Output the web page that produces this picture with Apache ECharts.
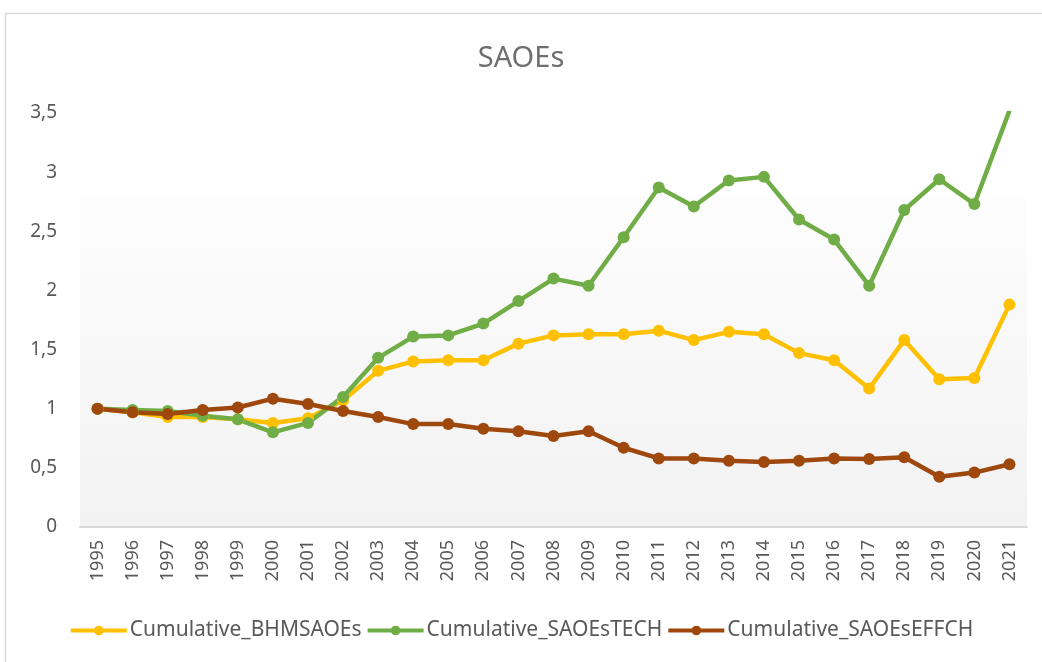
<!DOCTYPE html>
<html>
<head>
    <meta charset="UTF-8">
    <title>SAOEs</title>
    <script src="https://cdn.jsdelivr.net/npm/echarts@6/dist/echarts.min.js"></script>
    <style>
        html, body { margin: 0; padding: 0; background: #fff; }
        #main { width: 1042px; height: 662px; }
    </style>
</head>
<body>
<div id="main"></div>
<script type="text/javascript">
    // years on the x axis
    var years = ['1995', '1996', '1997', '1998', '1999', '2000', '2001', '2002', '2003', '2004',
        '2005', '2006', '2007', '2008', '2009', '2010', '2011', '2012', '2013', '2014',
        '2015', '2016', '2017', '2018', '2019', '2020', '2021'];

    // values
    var bhmSaoes = [1.00, 0.97, 0.93, 0.93, 0.91, 0.88, 0.92, 1.07, 1.32, 1.40,
        1.41, 1.41, 1.55, 1.62, 1.63, 1.63, 1.66, 1.58, 1.65, 1.63,
        1.47, 1.41, 1.17, 1.58, 1.25, 1.26, 1.88];
    var saoesTech = [1.00, 0.99, 0.98, 0.94, 0.91, 0.80, 0.88, 1.10, 1.43, 1.61,
        1.62, 1.72, 1.91, 2.10, 2.04, 2.45, 2.87, 2.71, 2.93, 2.96,
        2.60, 2.43, 2.04, 2.68, 2.94, 2.73, 3.52];
    var saoesEffch = [1.00, 0.97, 0.955, 0.99, 1.01, 1.085, 1.04, 0.98, 0.93, 0.87,
        0.87, 0.83, 0.81, 0.77, 0.81, 0.67, 0.58, 0.58, 0.56, 0.55,
        0.56, 0.58, 0.575, 0.59, 0.425, 0.46, 0.53];

    var yTicks = [0, 0.5, 1, 1.5, 2, 2.5, 3, 3.5];

    var seriesNames = ['Cumulative_BHMSAOEs', 'Cumulative_SAOEsTECH', 'Cumulative_SAOEsEFFCH'];
    var seriesColors = ['#FFC000', '#70AD47', '#9E480E'];

    var echart = echarts.init(document.getElementById('main'));

    function makeLine(name, data, color) {
        return {
            name: name,
            type: 'line',
            data: data,
            symbol: 'circle',
            symbolSize: 12,
            clip: true,
            itemStyle: {color: color},
            lineStyle: {color: color, width: 4.5}
        };
    }

    var option = {
        backgroundColor: '#ffffff',
        animation: false,
        textStyle: {fontFamily: 'Noto Sans'},
        title: {
            text: 'SAOEs',
            left: 'center',
            top: 39,
            textStyle: {
                fontSize: 29,
                fontWeight: 'normal',
                color: '#6e6e6e',
                fontFamily: 'Noto Sans'
            }
        },
        graphic: [{
            type: 'rect',
            shape: {x: 5.5, y: 13.5, width: 1040, height: 660},
            style: {fill: 'none', stroke: '#d9d9d9', lineWidth: 1.5},
            silent: true
        }],
        legend: {
            bottom: 16,
            left: 'center',
            itemWidth: 56,
            itemHeight: 12,
            itemGap: 4,
            lineStyle: {width: 4},
            textStyle: {fontSize: 21, color: '#595959', padding: [0, 0, 0, -2]},
            data: seriesNames
        },
        grid: {
            left: 80,
            right: 15,
            top: 113,
            bottom: 135,
            show: true,
            borderWidth: 0,
            backgroundColor: {
                type: 'linear', x: 0, y: 0, x2: 0, y2: 1,
                colorStops: [
                    {offset: 0, color: '#ffffff'},
                    {offset: 0.2, color: '#ffffff'},
                    {offset: 0.21, color: '#fdfdfd'},
                    {offset: 1, color: '#f2f2f2'}
                ]
            }
        },
        xAxis: {
            type: 'category',
            boundaryGap: true,
            data: years,
            axisLine: {lineStyle: {color: '#d9d9d9', width: 2}},
            axisTick: {show: false},
            axisLabel: {
                rotate: 90,
                interval: 0,
                margin: 13,
                fontSize: 18,
                color: '#595959'
            }
        },
        yAxis: {
            type: 'value',
            min: yTicks[0],
            max: yTicks[yTicks.length - 1],
            interval: 0.5,
            axisLine: {show: false},
            axisTick: {show: false},
            splitLine: {show: false},
            axisLabel: {
                margin: 23,
                fontSize: 19,
                color: '#595959',
                formatter: function (v) {
                    return String(v).replace('.', ',');
                }
            }
        },
        series: [
            makeLine(seriesNames[0], bhmSaoes, seriesColors[0]),
            makeLine(seriesNames[1], saoesTech, seriesColors[1]),
            makeLine(seriesNames[2], saoesEffch, seriesColors[2])
        ]
    };

    echart.setOption(option);
</script>
</body>
</html>
